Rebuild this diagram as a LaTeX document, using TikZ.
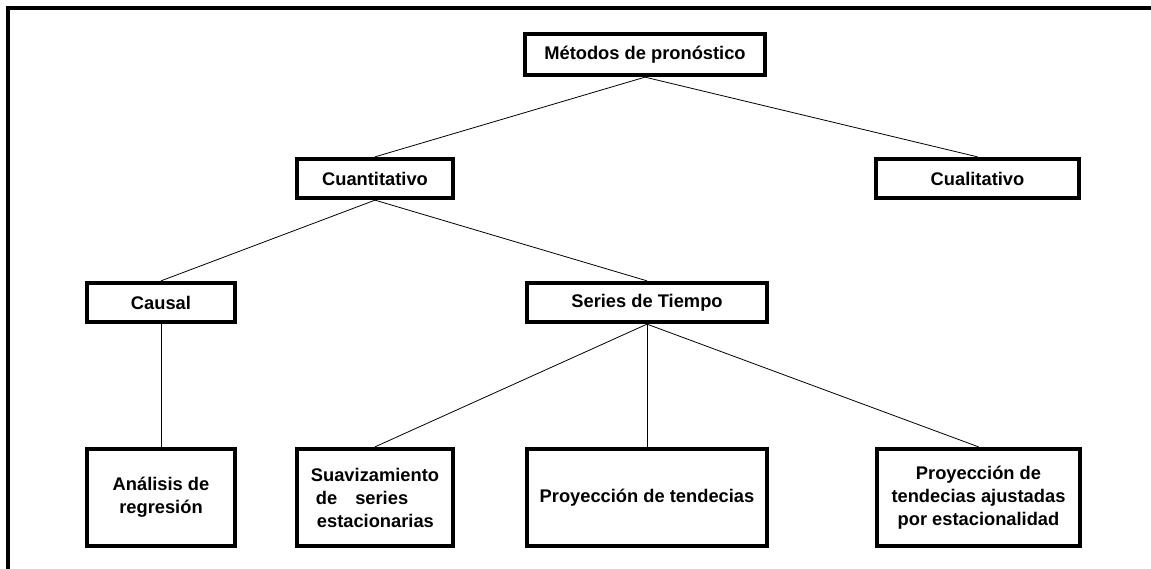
\documentclass[tikz,border=0pt]{standalone}
\usepackage{fontspec}
\setmainfont{Liberation Sans}
\begin{document}
\begin{tikzpicture}[x=1pt,y=-1pt,line width=0.8pt,
	box/.style={rectangle, draw, line width=3.8pt, inner sep=0pt, align=center,
		font=\bfseries\fontsize{18.3}{23}\selectfont},
	small/.style={box, minimum height=39.5pt},
	tall/.style={box, minimum height=97.5pt}]
	\useasboundingbox (0,0) rectangle (1151,569);
	% frame
	\draw[line width=4pt] (8,569) -- (8,8) -- (1151,8);
	\node (MP) at ( 645.0,  54.5)	[box, minimum width=240.5pt, minimum height=41.5pt]	{Métodos de pronóstico};
	\node (CN) at ( 375.0, 178.5)	[small, minimum width=156.5pt]	{Cuantitativo};
	\node (CL) at ( 977.5, 178.5)	[small, minimum width=203.5pt]	{Cualitativo};
	\node (CA) at ( 161.0, 302.5)	[small, minimum width=148.5pt]	{Causal};
	\node (ST) at ( 647.0, 302.5)	[small, minimum width=240.5pt]	{Series de Tiempo};
	\node (AR) at ( 161.0, 497.5)	[tall, minimum width=148.5pt]	{Análisis de\\regresión};
	\node (SS) at ( 375.0, 497.5)	[tall, minimum width=156.5pt, align=left]	{Suavizamiento\\\hspace*{5pt}de\hspace*{18pt}series\\\hspace*{6pt}estacionarias};
	\node (PT) at ( 647.0, 497.5)	[tall, minimum width=240.5pt]	{Proyección de tendecias};
	\node (PA) at ( 978.5, 497.5)	[tall, minimum width=203.5pt]	{Proyección de\\tendecias ajustadas\\por estacionalidad};
	\draw (MP.south) -- (CN.north);
	\draw (MP.south) -- (CL.north);
	\draw (CN.south) -- (CA.north);
	\draw (CN.south) -- (ST.north);
	\draw (CA.south) -- (AR.north);
	\draw (ST.south) -- (SS.north);
	\draw (ST.south) -- (PT.north);
	\draw (ST.south) -- (PA.north);
\end{tikzpicture}
\end{document}
